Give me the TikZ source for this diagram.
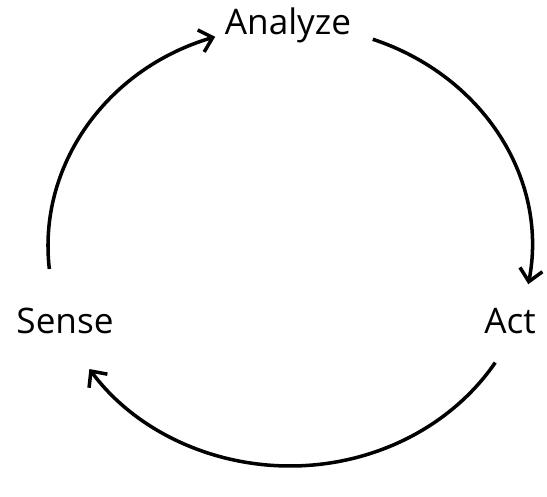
\documentclass[tikz,border=0pt]{standalone}
\usepackage{fontspec}
\setmainfont{Open Sans}
\usetikzlibrary{arrows.meta,calc}

\begin{document}
\begin{tikzpicture}[>={Straight Barb[length=7pt,width=13pt]},line width=2pt]
\useasboundingbox (0,0) rectangle (10.94,9.94);
\tikzset{stage/.style={font=\fontsize{20}{24}\selectfont}}
\node[stage] (analyze) at (5.76,9.44) {Analyze};
\node[stage] (sense) at (1.30,3.52) {Sense};
\node[stage] (act) at (10.2,3.52) {Act};
\coordinate (c) at (5.8,5.02);
% sense -> analyze -> act -> sense
\coordinate (s1) at ($(c)+(186:4.84 and 4.4)$);
\coordinate (a1) at ($(c)+(70:4.84 and 4.4)$);
\coordinate (t1) at ($(c)+(-32:4.84 and 4.4)$);
\draw[->] (s1) arc[start angle=186,end angle=108,x radius=4.84,y radius=4.4];
\draw[->] (a1) arc[start angle=70,end angle=-10,x radius=4.84,y radius=4.4];
\draw[->] (t1) arc[start angle=-32,end angle=-146,x radius=4.84,y radius=4.4];
\end{tikzpicture}
\end{document}
